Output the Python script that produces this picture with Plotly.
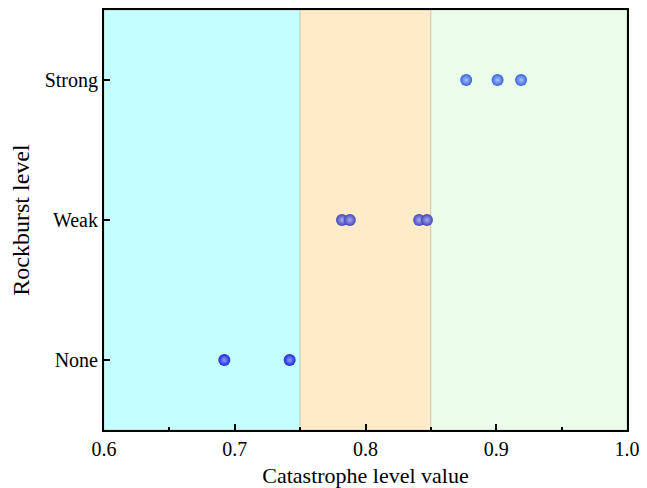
import plotly.graph_objects as go

levels = ["None", "Weak", "Strong"]
none_x = [0.692, 0.742]
weak_x = [0.782, 0.788, 0.841, 0.847]
strong_x = [0.877, 0.901, 0.919]

band_edges = [0.6, 0.75, 0.85, 1.0]
band_colors = ["#c4feff", "#feecc8", "#eafdeb"]

x_ticks = [0.6, 0.7, 0.8, 0.9, 1.0]
x_tick_text = ["0.6", "0.7", "0.8", "0.9", "1.0"]

series = [
    ("None", none_x, "#1a26d8", "#8c9cff"),
    ("Weak", weak_x, "#4245b8", "#a9acf0"),
    ("Strong", strong_x, "#3362dc", "#a8c2ff"),
]

font = "Liberation Serif, Times New Roman, serif"

fig = go.Figure()
for name, xs, col, hi in series:
    fig.add_trace(go.Scatter(
        x=xs, y=[name] * len(xs), mode="markers",
        marker=dict(size=12, color=col, line=dict(width=0),
                    gradient=dict(type="radial", color=hi)),
        showlegend=False, cliponaxis=False,
    ))

shapes = []
for i, c in enumerate(band_colors):
    shapes.append(dict(type="rect", xref="x", yref="paper",
                       x0=band_edges[i], x1=band_edges[i + 1], y0=0, y1=1,
                       fillcolor=c, line=dict(width=1, color="rgba(180,180,160,0.5)"),
                       layer="below"))
# page body has an 8px default margin: figure is sized/offset to compensate
fig.update_layout(
    width=639, height=480,
    margin=dict(l=96, r=20, t=2, b=58, autoexpand=False),
    paper_bgcolor="white", plot_bgcolor="white",
    shapes=shapes,
    font=dict(family=font, color="black", size=20),
    xaxis=dict(range=[0.6, 1.0], tickvals=x_ticks, ticktext=x_tick_text,
               ticks="inside", ticklen=6, tickwidth=1.5, tickcolor="black",
               minor=dict(dtick=0.05, ticks="inside", ticklen=3, tickwidth=1.5, tickcolor="black"),
               showline=True, linecolor="black", linewidth=2, mirror=True,
               showgrid=False, zeroline=False, automargin=False,
               title=dict(text="Catastrophe level value", font=dict(size=22), standoff=10),
               tickfont=dict(size=20)),
    yaxis=dict(type="category", categoryorder="array", categoryarray=levels,
               range=[-0.5, 2.5],
               ticks="inside", ticklen=6, tickwidth=1.5, tickcolor="black",
               showline=True, linecolor="black", linewidth=2, mirror=True,
               showgrid=False, zeroline=False, automargin=False,
               title=dict(text="Rockburst level", font=dict(size=24), standoff=10),
               tickfont=dict(size=20)),
)

fig.write_html("out.html")
